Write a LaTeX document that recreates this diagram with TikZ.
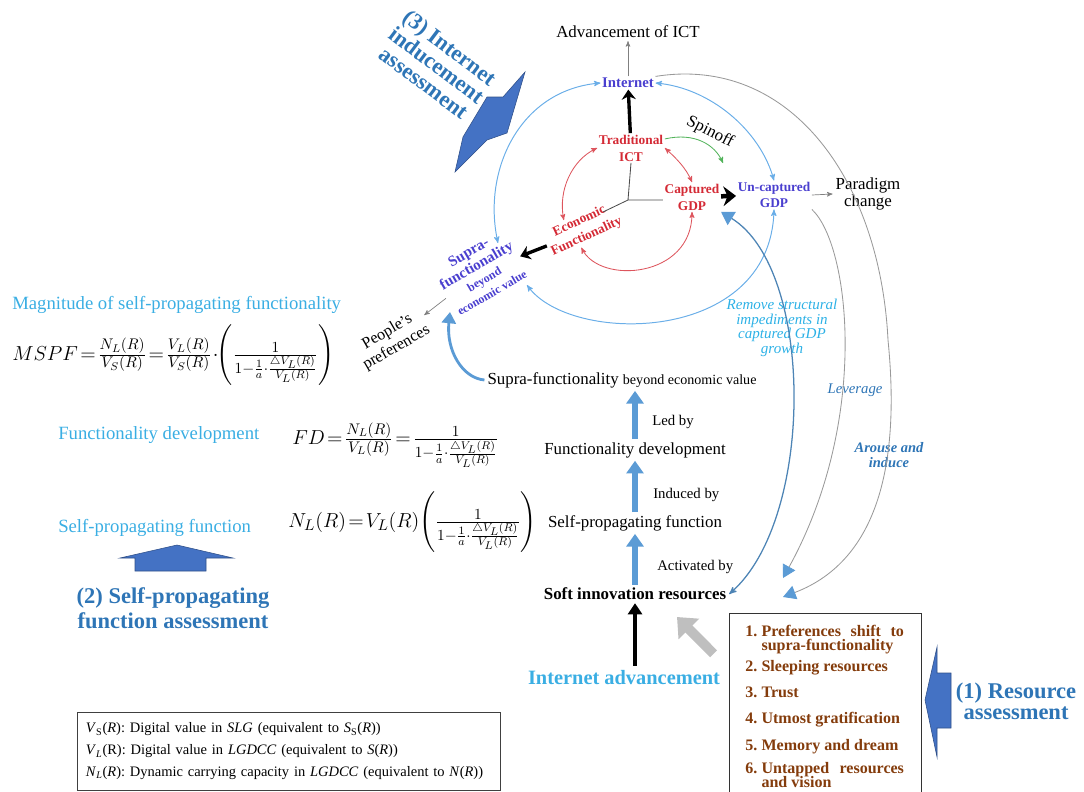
\documentclass[tikz,border=0pt]{standalone}
\usepackage{amsmath}
\usepackage{fontspec}
\setmainfont{Liberation Serif}
\usetikzlibrary{arrows,arrows.meta,positioning}

\definecolor{ictred}{HTML}{D42A35}
\definecolor{netviolet}{HTML}{4A3FCF}
\definecolor{labcyan}{HTML}{3AAEE3}
\definecolor{asmblue}{HTML}{2E75B6}
\definecolor{flowblue}{HTML}{5B9BD5}
\definecolor{arcblue}{HTML}{6AAEE8}
\definecolor{blockblue}{HTML}{4472C4}
\definecolor{resbrown}{HTML}{843C0C}
\definecolor{spingreen}{HTML}{52B35A}
\definecolor{impcyan}{HTML}{2DB1E6}

\newcommand{\tightmath}{\thickmuskip=2mu plus 1mu\relax\medmuskip=1.5mu\relax}

\begin{document}
\begin{tikzpicture}[x=0.025cm,y=-0.025cm,>=stealth',
    ict node/.style={text=ictred,font=\bfseries\fontsize{9.5}{12}\selectfont,align=center,inner sep=1pt},
    net node/.style={text=netviolet,font=\bfseries\fontsize{9.5}{11.5}\selectfont,align=center,inner sep=1pt},
    col node/.style={font=\fontsize{12}{14}\selectfont,inner sep=2pt},
    cue node/.style={font=\fontsize{10.5}{12}\selectfont,anchor=west,inner sep=0pt},
    side label/.style={text=labcyan,font=\fontsize{13.3}{15}\selectfont,anchor=west,inner sep=0pt},
    eq node/.style={font=\fontsize{15.5}{19}\selectfont,anchor=west,inner sep=0pt},
    assess label/.style={text=asmblue,align=center},
    res item/.style={text=resbrown,font=\bfseries\fontsize{11.4}{10.6}\selectfont,anchor=base west,inner sep=0pt},
    flow arrow/.style={draw=flowblue,line width=4pt,-{Triangle[length=9pt,width=12pt]}},
    bold arrow/.style={draw=black,line width=2.4pt,-{Stealth[length=7pt,width=10pt]}},
    grey arrow/.style={draw=gray,line width=0.5pt,->},
    ring arrow/.style={draw=arcblue,line width=0.7pt,<->},
    red arrow/.style={draw=ictred!80,line width=0.6pt,<->},
    block/.style={fill=blockblue,draw=blockblue!70!black,line width=0.4pt}]

  \useasboundingbox (0,0) rectangle (1084,791);

  % loop round traditional ICT
  \node[col node] (adv) at (628,32) {Advancement of ICT};
  \node[net node,font=\bfseries\fontsize{10.5}{12}\selectfont] (inet) at (628,83) {Internet};
  \node[ict node] (tict) at (631,148) {Traditional\\ICT};
  \node[ict node] (cgdp) at (692,197) {Captured\\GDP};
  \node[net node] (ugdp) at (774,195) {Un-captured\\GDP};
  \node[ict node,rotate=25] (efun) at (583,229) {Economic\\Functionality};
  \node[col node,align=center,font=\fontsize{12}{12}\selectfont] (para) at (868,194) {Paradigm\\change};
  \node[net node,rotate=30,font=\bfseries\fontsize{10.7}{11}\selectfont] (supra) at (480,272)
    {Supra-\\functionality\\{\fontsize{8.5}{9.5}\selectfont beyond}\\{\fontsize{8.5}{9.5}\selectfont economic value}};
  \node[col node,rotate=30,align=center,font=\fontsize{11.5}{13}\selectfont] (people) at (392,340) {People's\\preferences};
  \node[font=\fontsize{12}{14}\selectfont,rotate=-27] (spin) at (710,132) {Spinoff};
  \coordinate (hub) at (628,200);
  \coordinate (hubsw) at (603,212);
  \coordinate (spinend) at (723,163);
  \coordinate (supratop) at (498,243);
  \coordinate (supralow) at (527,285);
  \coordinate (suprafoot) at (450,312);
  \coordinate (lev) at (783,578);
  \coordinate (aro) at (783,597);
  \coordinate (greytip) at (677,617);

  % central column
  \node[col node] (sfbev) at (622,380) {Supra-functionality {\fontsize{10}{12}\selectfont beyond economic value}};
  \node[col node] (fdev) at (635,450) {Functionality development};
  \node[col node] (spf) at (635,523) {Self-propagating function};
  \node[col node,font=\bfseries\fontsize{12}{14}\selectfont] (sir) at (635,594) {Soft innovation resources};
  \node[text=labcyan,font=\bfseries\fontsize{14.5}{16}\selectfont] (inadv) at (624,678) {Internet advancement};
  \node[cue node] (ledby) at (652,422) {Led by};
  \node[cue node] (indby) at (653,495) {Induced by};
  \node[cue node] (actby) at (657,567) {Activated by};

  % right side labels
  \node[text=impcyan,font=\itshape\fontsize{10.7}{10.4}\selectfont,align=center] (remove) at (782,328)
    {Remove structural\\impediments in\\captured GDP\\growth};
  \node[text=asmblue,font=\itshape\fontsize{10.5}{12}\selectfont] (lever) at (855,390) {Leverage};
  \node[text=asmblue,font=\bfseries\itshape\fontsize{10.3}{10.5}\selectfont,align=center] (arouse) at (889,455) {Arouse and\\induce};

  % formulas on the left
  \node[side label] (lmspf) at (12,305) {Magnitude of self-propagating functionality};
  \node[eq node] (mspf) at (12,355)
    {$\tightmath MSPF=\frac{N_L(R)}{V_S(R)}=\frac{V_L(R)}{V_S(R)}\cdot\!\left(\frac{1}{1-\frac{1}{a}\cdot\frac{\triangle V_L(R)}{V_L(R)}}\right)$};
  \node[side label] (lfd) at (58,435) {Functionality development};
  \node[eq node] (fd) at (292,445)
    {$\tightmath FD=\frac{N_L(R)}{V_L(R)}=\frac{1}{1-\frac{1}{a}\cdot\frac{\triangle V_L(R)}{V_L(R)}}$};
  \node[side label] (lspf) at (58,528) {Self-propagating function};
  \node[eq node] (nl) at (288,522)
    {$\tightmath N_L(R)=V_L(R)\!\left(\frac{1}{1-\frac{1}{a}\cdot\frac{\triangle V_L(R)}{V_L(R)}}\right)$};

  % assessments
  \node[assess label,font=\bfseries\fontsize{16}{17.7}\selectfont] (asm2) at (173,608) {(2) Self-propagating\\function assessment};
  \node[assess label,font=\bfseries\fontsize{16}{15}\selectfont] (asm1) at (1016,701) {(1) Resource\\assessment};
  \node[assess label,rotate=-37,font=\bfseries\fontsize{16}{15.6}\selectfont] (asm3) at (437,65) {(3) Internet\\inducement\\assessment};

  \fill[block] (135,571) -- (135,558) -- (120,558) -- (177,545) -- (233,558) -- (206,558) -- (206,571) -- cycle;
  \fill[block] (925,700) -- (937,647) -- (937,673) -- (951,673) -- (951,728) -- (937,728) -- (937,757) -- cycle;
  \fill[block] (525,72) -- (507,133) -- (487,140) -- (455,172) -- (463,137) -- (487,97) -- (503,97) -- cycle;

  % legend and resource box
  \node[draw=black!75,line width=0.6pt,anchor=north west,minimum width=10.575cm,minimum height=1.95cm,
        inner xsep=6pt,text width=10.15cm,align=left,font=\fontsize{10.3}{15.6}\selectfont] (legend) at (77,712)
    {\textit{V}\textsubscript{S}(\textit{R}): Digital value in \textit{SLG} (equivalent to \textit{S}\textsubscript{S}(\textit{R}))\\
     \textit{V}\textsubscript{\textit{L}}(R): Digital value in \textit{LGDCC} (equivalent to \textit{S}(\textit{R}))\\
     \textit{N}\textsubscript{\textit{L}}(\textit{R}): Dynamic carrying capacity in \textit{LGDCC} (equivalent to \textit{N}(\textit{R}))};
  \node[draw=black!80,line width=0.8pt,anchor=north west,minimum width=4.8cm,minimum height=4.8cm,inner sep=0pt] (resbox) at (729,613) {};
  \node[res item] (r1) at (745,636) {\begin{tabular}[t]{@{}r@{\hspace{3pt}}p{3.56cm}@{}}1.&\hyphenpenalty=10000 Preferences shift to supra-functionality\end{tabular}};
  \node[res item] (r2) at (745,671) {2.\hspace{3pt}Sleeping resources};
  \node[res item] (r3) at (745,697) {3.\hspace{3pt}Trust};
  \node[res item] (r4) at (745,723) {4.\hspace{3pt}Utmost gratification};
  \node[res item] (r5) at (745,750) {5.\hspace{3pt}Memory and dream};
  \node[res item] (r6) at (745,773) {\begin{tabular}[t]{@{}r@{\hspace{3pt}}p{3.56cm}@{}}6.&\hyphenpenalty=10000 Untapped resources and vision\end{tabular}};

  % connectors of the loop
  \draw[grey arrow] (inet) -- (adv);
  \draw[bold arrow] (tict) -- (inet);
  \draw[black!70,line width=0.6pt] (tict.south) -- (hub) -- (cgdp.west |- hub);
  \draw[black!70,line width=0.6pt] (hub) -- (hubsw);
  \draw[red arrow] (tict.west) .. controls (572,160) and (558,190) .. (efun.130);
  \draw[red arrow] (tict.east) .. controls (676,158) and (686,168) .. (cgdp.north);
  \draw[red arrow] (efun.240) .. controls (600,285) and (692,278) .. (cgdp.south);
  \draw[bold arrow,line width=3.2pt,-{Stealth[length=9pt,width=14pt]}] (cgdp) -- (ugdp);
  \draw[grey arrow] (ugdp.east) -- (para.west);
  \draw[draw=spingreen,line width=0.6pt,->] (tict.15) .. controls (695,132) and (715,145) .. (spinend);
  \draw[ring arrow] (inet.east) .. controls (710,88) and (760,130) .. (ugdp.north);
  \draw[ring arrow] (supratop) .. controls (482,170) and (520,90) .. (inet.west);
  \draw[ring arrow] (supralow) .. controls (570,345) and (770,345) .. (ugdp.south);
  \draw[bold arrow] (efun.west) -- (supra);
  \draw[grey arrow] (supra) -- (people);

  % connectors on the right
  \draw[draw=gray!80,line width=0.6pt,-{Triangle[length=9pt,width=10pt,color=flowblue]}]
    (inet.north east) .. controls (790,55) and (880,180) .. (888,340) .. controls (900,460) and (880,560) .. (aro);
  \draw[draw=gray!80,line width=0.6pt,-{Triangle[length=9pt,width=10pt,color=flowblue]}]
    (ugdp.south east) .. controls (850,245) and (870,420) .. (lev);
  \draw[draw=flowblue!85!black,line width=0.9pt,{Triangle[length=9pt,width=11pt,color=flowblue]}->]
    (cgdp.south east) .. controls (815,270) and (815,520) .. (sir.east);

  % central column arrows
  \draw[flow arrow] (sir.north) -- (spf.south);
  \draw[flow arrow] (spf.north) -- (fdev.south);
  \draw[flow arrow] (fdev.north) -- (fdev.north |- sfbev.south);
  \draw[draw=flowblue,line width=2pt,-{Triangle[length=8pt,width=10pt]}]
    (sfbev.west) .. controls (462,378) and (446,350) .. (suprafoot);
  \draw[line width=2.4pt,-{Triangle[length=8pt,width=10pt]}] (sir |- inadv.north) -- (sir.south);
  \draw[draw=gray!50,line width=7pt,-{Triangle[length=12pt,width=20pt]}]
    ([xshift=-11pt,yshift=-29pt]resbox.north west) -- (greytip);
\end{tikzpicture}
\end{document}
